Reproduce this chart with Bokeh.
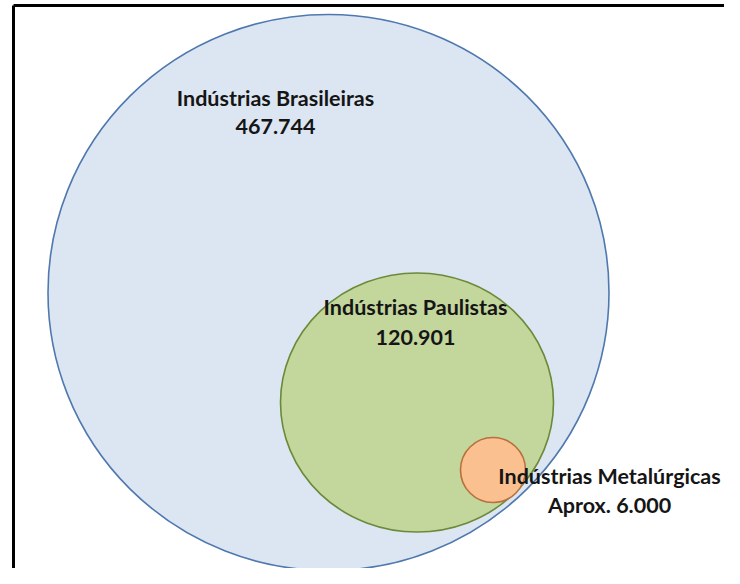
from bokeh.plotting import figure
from bokeh.models import Range1d, ColumnDataSource
from bokeh.core.properties import value
from bokeh.embed import file_html
from bokeh.resources import INLINE

# --- data ---
categories = ["Indústrias Brasileiras", "Indústrias Paulistas", "Indústrias Metalúrgicas"]
value_labels = ["467.744", "120.901", "Aprox. 6.000"]
values = [467744, 120901, 6000]

# --- layout (picture pixel coordinates) ---
cx = [328, 416.5, 492.5]
cy = [292, 402, 469.5]
cw = [561, 273, 65]
ch = [556, 259, 65]
fills = ["#DCE6F2", "#C3D69B", "#FAC090"]
lines = ["#4F79AE", "#6A8A3A", "#B8703C"]

label_x = [275, 415, 609]
label_y1 = [97, 306, 475]
label_y2 = [126, 337, 504]

p = figure(width=724, height=568, output_backend="svg", toolbar_location=None,
           x_range=Range1d(0, 724), y_range=Range1d(568, 0), min_border=0)
p.axis.visible = False
p.grid.visible = False
p.outline_line_color = None
p.background_fill_color = "white"

# frame
p.line(x=[13, 13], y=[600, 5], line_color="black", line_width=3)
p.line(x=[13, 760], y=[5, 5], line_color="black", line_width=3)

src = ColumnDataSource(dict(x=cx, y=cy, w=cw, h=ch, fill=fills, line=lines))
p.ellipse(x="x", y="y", width="w", height="h", fill_color="fill", line_color="line",
          line_width=1.6, source=src)

tsrc = ColumnDataSource(dict(x=label_x, y1=label_y1, y2=label_y2, name=categories, val=value_labels))
p.text(x="x", y="y1", text="name", source=tsrc, text_align="center", text_baseline="middle",
       text_font=value("Lato"), text_font_style="bold", text_font_size="21.5px", text_color="#151515")
p.text(x="x", y="y2", text="val", source=tsrc, text_align="center", text_baseline="middle",
       text_font=value("Lato"), text_font_style="bold", text_font_size="21.5px", text_color="#151515")

open("out.html", "w").write(file_html(p, INLINE))
